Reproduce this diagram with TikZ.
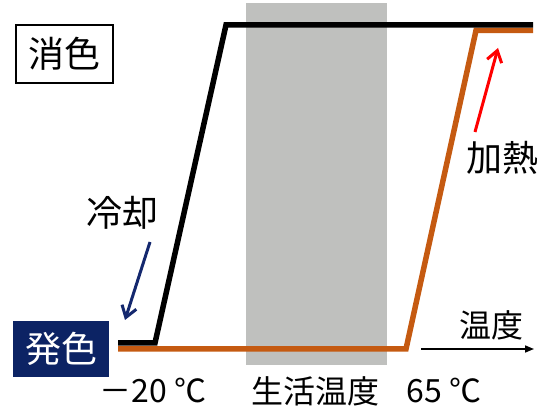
\documentclass[tikz,border=0pt]{standalone}
\usepackage{fontspec}
\setmainfont{Noto Sans CJK JP}
\usetikzlibrary{arrows.meta}
\definecolor{grayband}{RGB}{191,192,190}
\definecolor{heatorange}{RGB}{197,90,17}
\definecolor{navyblue}{RGB}{12,35,100}
\definecolor{arrowblue}{RGB}{20,40,110}
\begin{document}
\begin{tikzpicture}[x=1pt,y=-1pt,
  bigtxt/.style={font=\fontsize{36}{40}\selectfont, inner sep=0pt},
  midtxt/.style={font=\fontsize{32}{36}\selectfont, inner sep=0pt},
  curve/.style={line width=5.5pt, line join=miter, line cap=butt},
  barb/.style={line width=3pt, -{Straight Barb[length=11pt,width=15pt,line width=3pt]}},
]
\useasboundingbox (0,0) rectangle (552,411);
% living temperature band
\fill[grayband] (246,3) rectangle (387,365);
% heating curve (orange)
\coordinate (o1) at (118,349);
\coordinate (o2) at (406,349);
\coordinate (o3) at (476,30.5);
\coordinate (o4) at (533,30.5);
\draw[curve, heatorange] (o1) -- (o2) -- (o3) -- (o4);
% cooling curve (black)
\coordinate (b1) at (118,343);
\coordinate (b2) at (155,343);
\coordinate (b3) at (226,25);
\coordinate (b4) at (533,25);
\draw[curve, black] (b1) -- (b2) -- (b3) -- (b4);
% state labels
\node[bigtxt, draw=black, line width=1.4pt, minimum width=97pt, minimum height=58pt] (xiao) at (64.5,54) {消色};
\node[bigtxt, fill=navyblue, text=white, minimum width=96pt, minimum height=56pt] (fa) at (61,349) {発色};
% cooling
\node[bigtxt] (cool) at (122,213) {冷却};
\coordinate (coolS) at (150,242);
\coordinate (coolE) at (125,320);
\draw[barb, arrowblue] (coolS) -- (coolE);
% heating
\node[bigtxt] (heat) at (502,158) {加熱};
\coordinate (heatS) at (475,132);
\coordinate (heatE) at (498,48);
\draw[barb, red] (heatS) -- (heatE);
% temperature axis
\node[midtxt] (temp) at (491,325) {温度};
\coordinate (axS) at (421,349);
\coordinate (axE) at (534,349);
\draw[line width=1.6pt, -{Triangle[length=9pt,width=7pt]}] (axS) -- (axE);
% bottom labels
\node[midtxt] (lo) at (153,391) {－20 ℃};
\node[midtxt] (life) at (315,391) {生活温度};
\node[midtxt] (hi) at (444,391) {65 ℃};
\end{tikzpicture}
\end{document}
